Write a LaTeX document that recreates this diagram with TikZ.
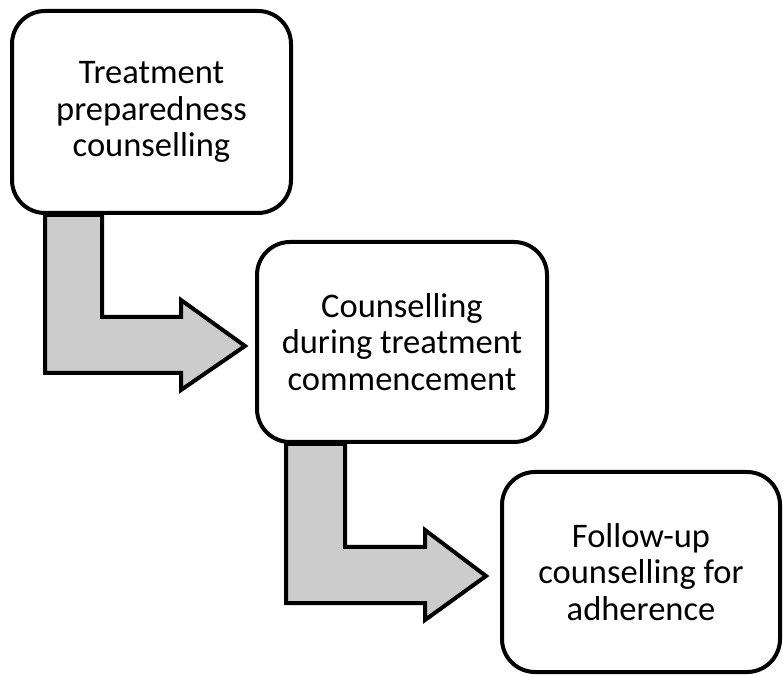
\documentclass[tikz,border=0pt]{standalone}
\usepackage{fontspec}
\setmainfont{Carlito}
\usepackage{xcolor}
\definecolor{stepgray}{HTML}{CCCCCC}
\usepackage{tikz}
\usetikzlibrary{calc,backgrounds}
\tikzset{
  stepbox/.style={draw,line width=4pt,rounded corners=33pt,fill=white,align=center,font=\fontsize{34.5}{36.7}\selectfont,minimum height=200pt,inner sep=0pt},
  stepflow/.style={draw,line width=4pt,fill=stepgray,line join=miter},
}
\begin{document}
\begin{tikzpicture}[x=1pt,y=1pt]
\useasboundingbox (0,0) rectangle (783,674);
\node[stepbox,minimum width=279pt,minimum height=202pt] (t1) at (151.5,562) {Treatment\\preparedness\\counselling};
\node[stepbox,minimum width=290pt] (t2) at (402,332) {Counselling\\during treatment\\commencement};
\node[stepbox,minimum width=278pt] (t3) at (641,102) {Follow-up\\counselling for\\adherence};
\begin{scope}[on background layer]
\draw[stepflow] let \p1=(t1.south west), \p2=(t2.west) in (\x1+35,\y1) -- (\x1+92,\y1) -- (\x1+92,\y2+25) -- (\x2-74,\y2+25) -- (\x2-74,\y2+42) -- (\x2-10,\y2-4) -- (\x2-74,\y2-48) -- (\x2-74,\y2-31) -- (\x1+35,\y2-31) -- cycle;
\draw[stepflow] let \p1=(t2.south west), \p2=(t3.west) in (\x1+31,\y1) -- (\x1+90,\y1) -- (\x1+90,\y2+25) -- (\x2-75,\y2+25) -- (\x2-75,\y2+42) -- (\x2-14,\y2-4) -- (\x2-75,\y2-48) -- (\x2-75,\y2-31) -- (\x1+31,\y2-31) -- cycle;
\end{scope}
\end{tikzpicture}
\end{document}
